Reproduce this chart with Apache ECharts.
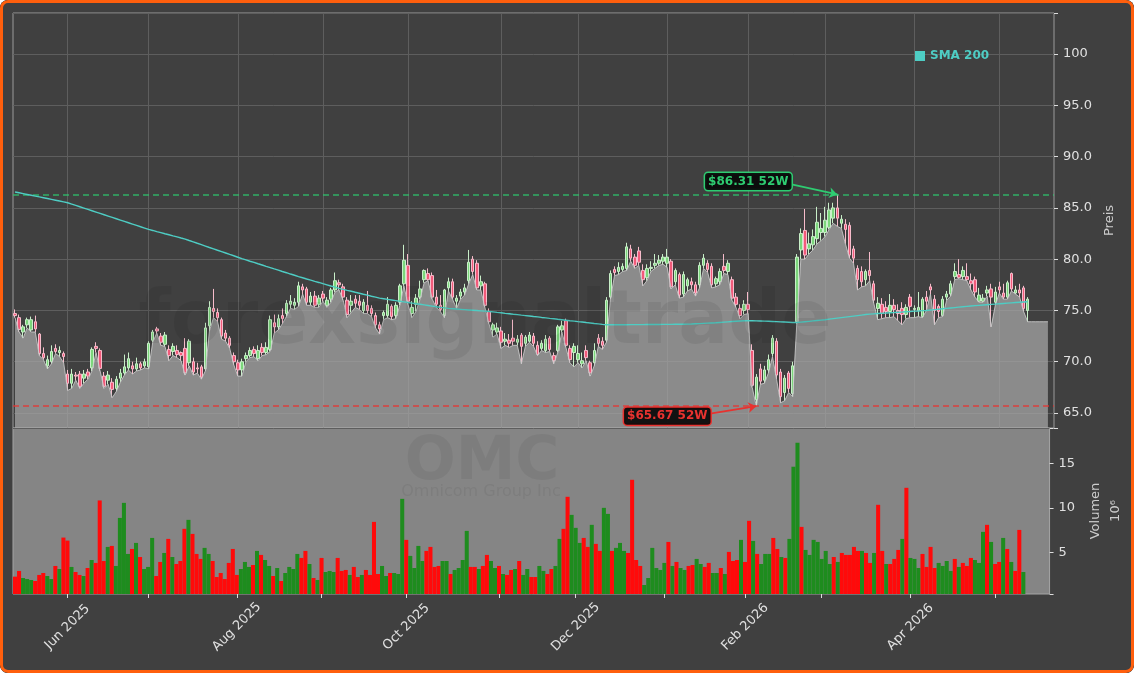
<!DOCTYPE html>
<html>
<head>
<meta charset="utf-8">
<title>OMC</title>
<script src="https://cdn.jsdelivr.net/npm/echarts@6/dist/echarts.min.js"></script>
<style>
  html, body { margin: 0; padding: 0; background: #ffffff; }
  .frame { position: relative; width: 1134px; height: 673px; border-radius: 8px; overflow: hidden; background: #404040; }
  #chart { position: absolute; left: 0; top: 0; width: 1134px; height: 673px; }
  .edge { position: absolute; left: 0; top: 0; width: 1134px; height: 673px; box-sizing: border-box;
          border: 3px solid #ff5f0d; border-radius: 8px; pointer-events: none; }
</style>
</head>
<body>
<div class="frame">
  <div id="chart"></div>
  <div class="edge"></div>
</div>
<script>
// OMC daily candles, one trading day per category
const startDate = '2025-05-13'
const holidays = ['2025-05-26', '2025-06-19', '2025-07-04', '2025-09-01', '2025-11-27',
  '2025-12-25', '2026-01-01', '2026-01-19', '2026-02-16', '2026-04-03']
const tickLabels = ['Jun 2025', 'Aug 2025', 'Oct 2025', 'Dec 2025', 'Feb 2026', 'Apr 2026']
const padDays = 6

const opens = [
  74.7, 74.3, 72.9, 73.6, 73.1, 73.9, 72.7, 70.8, 69.6, 70.0,
  71.3, 70.9, 70.8, 68.8, 67.9, 68.7, 68.8, 68.4, 69.0, 69.4,
  71.5, 71.1, 68.6, 68.2, 68.0, 67.4, 68.4, 68.9, 69.4, 69.6,
  69.3, 69.8, 69.6, 69.5, 72.1, 73.2, 72.5, 71.7, 71.2, 71.0,
  71.1, 70.9, 71.3, 69.9, 70.0, 69.4, 69.5, 69.3, 73.5, 75.2,
  74.8, 74.1, 72.8, 72.3, 70.6, 69.9, 69.2, 70.3, 70.6, 71.2,
  70.3, 71.4, 70.9, 71.2, 73.8, 73.4, 74.5, 74.7, 75.6, 75.5,
  75.8, 77.3, 77.1, 75.8, 76.4, 75.6, 76.6, 75.5, 76.1, 77.0,
  77.7, 77.3, 76.0, 75.5, 76.1, 75.9, 75.0, 75.5, 75.2, 74.5,
  73.6, 74.5, 74.5, 75.4, 74.5, 75.8, 77.6, 79.4, 74.7, 75.6,
  76.3, 78.0, 78.6, 78.4, 76.3, 75.5, 74.5, 77.2, 77.8, 75.9,
  76.4, 76.8, 77.9, 80.0, 79.6, 77.4, 77.6, 74.9, 73.1, 72.9,
  73.0, 72.0, 72.1, 72.3, 71.9, 72.6, 71.8, 72.0, 72.5, 71.6,
  71.3, 71.1, 72.3, 70.6, 71.1, 73.1, 74.0, 71.3, 70.9, 70.2,
  69.8, 71.1, 69.9, 69.9, 72.3, 72.0, 72.1, 76.3, 79.0, 78.8,
  79.0, 79.1, 81.0, 80.2, 80.8, 78.9, 78.2, 79.1, 79.4, 79.6,
  79.8, 79.6, 79.8, 77.8, 78.5, 76.6, 77.4, 77.8, 77.5, 77.5,
  79.4, 79.6, 79.3, 77.6, 77.8, 79.3, 78.8, 78.0, 76.3, 75.2,
  75.0, 75.6, 71.1, 66.3, 69.3, 68.2, 69.2, 70.8, 72.0, 69.0,
  67.0, 68.9, 66.9, 73.9, 80.9, 82.8, 81.0, 81.4, 82.0, 82.6,
  82.6, 83.1, 84.0, 85.0, 83.5, 83.4, 83.3, 81.0, 79.1, 78.8,
  78.0, 78.9, 77.6, 75.2, 75.6, 75.3, 74.9, 75.5, 75.0, 75.2,
  74.6, 76.3, 75.1, 75.0, 74.4, 76.3, 77.3, 76.1, 75.4, 74.5,
  76.3, 76.6, 78.3, 78.5, 78.3, 78.3, 77.9, 78.0, 75.9, 75.9,
  76.7, 77.1, 75.8, 77.3, 76.7, 76.3, 78.6, 76.7, 77.0, 77.2,
  75.0
]
const closes = [
  74.5, 73.15, 73.4, 74.1, 74.1, 73.2, 70.8, 70.4, 70.2, 71.0,
  71.0, 71.1, 70.5, 67.9, 68.8, 68.6, 67.6, 68.8, 68.6, 71.2,
  71.3, 69.35, 67.6, 68.7, 67.3, 68.3, 68.9, 69.5, 70.3, 69.3,
  69.8, 69.4, 70.0, 71.8, 72.9, 73.0, 71.9, 72.6, 70.6, 71.5,
  70.7, 70.6, 68.9, 72.0, 69.0, 69.3, 68.5, 73.3, 75.3, 74.9,
  74.3, 72.5, 72.3, 71.6, 70.0, 69.2, 70.0, 70.6, 71.1, 70.8,
  71.1, 70.9, 71.4, 74.1, 73.4, 74.2, 74.2, 75.7, 75.9, 75.8,
  77.4, 77.0, 75.8, 76.4, 75.5, 76.2, 76.2, 76.0, 77.0, 77.9,
  77.5, 76.3, 74.6, 75.9, 75.7, 75.5, 75.8, 75.0, 74.7, 73.6,
  73.2, 74.8, 75.6, 74.4, 75.5, 77.4, 79.9, 75.9, 75.3, 76.2,
  77.1, 78.9, 78.0, 76.3, 75.6, 75.1, 77.0, 77.8, 76.3, 76.2,
  76.8, 77.2, 79.7, 78.8, 77.2, 77.8, 75.5, 73.9, 73.6, 73.3,
  71.9, 72.2, 71.8, 72.0, 72.2, 71.5, 72.4, 72.6, 71.8, 70.7,
  71.8, 72.2, 71.2, 70.1, 73.4, 73.5, 71.6, 70.2, 71.5, 70.8,
  70.1, 70.4, 68.9, 71.1, 71.8, 71.6, 76.0, 78.6, 78.7, 79.2,
  79.3, 81.2, 80.1, 79.4, 79.7, 78.0, 79.1, 79.2, 79.6, 79.9,
  80.2, 80.2, 77.3, 78.9, 76.5, 78.5, 78.0, 77.5, 76.7, 79.4,
  80.1, 79.0, 77.5, 78.1, 78.8, 78.9, 79.6, 76.2, 75.6, 74.5,
  75.6, 75.1, 67.7, 68.5, 68.1, 69.2, 70.2, 72.3, 68.7, 66.6,
  68.4, 67.4, 69.6, 80.2, 82.5, 80.4, 81.5, 82.2, 83.6, 83.0,
  83.8, 84.8, 85.0, 84.0, 83.9, 82.9, 80.4, 80.1, 78.0, 77.8,
  78.8, 78.4, 76.0, 75.7, 74.7, 74.9, 75.5, 75.1, 74.7, 74.6,
  75.3, 75.4, 75.2, 75.3, 76.1, 75.9, 77.0, 75.0, 74.9, 76.1,
  76.6, 77.6, 78.8, 78.2, 78.9, 78.0, 77.6, 76.8, 76.5, 76.2,
  77.0, 76.3, 76.8, 77.0, 76.3, 77.7, 77.1, 77.0, 76.7, 75.2,
  76.1
]
const lows = [
  74.3, 72.9, 72.3, 73.3, 72.9, 72.9, 70.6, 70.2, 69.3, 69.8,
  70.8, 70.5, 69.9, 67.2, 67.4, 68.2, 67.4, 67.9, 68.3, 69.1,
  70.9, 69.1, 67.4, 67.8, 66.5, 67.1, 68.0, 68.7, 69.2, 68.8,
  69.1, 69.2, 69.4, 69.3, 71.9, 72.8, 71.6, 71.5, 70.1, 70.6,
  70.4, 70.1, 68.7, 69.6, 68.7, 68.9, 68.3, 69.1, 73.0, 74.3,
  73.9, 72.2, 72.0, 71.3, 69.7, 68.6, 68.6, 70.0, 70.4, 70.5,
  70.1, 70.6, 70.7, 71.0, 72.8, 73.1, 73.7, 74.4, 75.2, 75.1,
  75.4, 76.6, 75.5, 75.5, 75.3, 75.3, 75.9, 75.3, 75.8, 76.8,
  77.0, 76.0, 74.3, 74.8, 75.3, 75.1, 74.7, 74.7, 74.4, 73.3,
  72.7, 74.1, 74.3, 74.1, 74.2, 75.5, 77.4, 75.6, 74.3, 74.9,
  76.1, 77.7, 77.9, 76.1, 75.3, 74.9, 74.3, 76.9, 76.1, 75.2,
  76.1, 76.5, 77.6, 78.5, 77.0, 77.0, 75.3, 73.7, 72.4, 72.7,
  71.3, 71.6, 71.4, 71.6, 71.6, 69.8, 71.5, 71.9, 71.5, 70.6,
  71.1, 70.9, 71.0, 69.8, 70.9, 72.9, 71.4, 69.9, 69.5, 69.9,
  69.4, 70.1, 68.6, 69.6, 71.5, 71.2, 71.9, 76.1, 78.4, 78.5,
  78.8, 78.9, 79.8, 79.1, 79.4, 77.4, 77.9, 78.8, 79.1, 79.4,
  79.5, 79.2, 77.1, 77.5, 76.2, 76.3, 76.9, 77.1, 76.4, 77.2,
  79.1, 78.7, 77.2, 77.3, 77.5, 78.6, 78.5, 76.0, 75.3, 74.2,
  74.6, 74.7, 67.5, 65.67, 67.8, 67.9, 68.9, 70.5, 68.3, 66.0,
  66.2, 67.0, 66.6, 73.7, 80.0, 80.0, 80.5, 80.9, 81.5, 81.8,
  82.2, 82.9, 83.5, 83.2, 83.0, 81.5, 80.1, 79.6, 77.0, 77.3,
  77.4, 77.9, 75.7, 74.1, 74.2, 74.3, 74.3, 74.4, 74.0, 73.6,
  74.2, 74.3, 74.3, 74.4, 74.3, 75.0, 76.6, 73.6, 74.3, 74.4,
  76.0, 76.4, 78.0, 78.1, 78.0, 77.9, 77.0, 76.3, 75.8, 75.8,
  76.4, 73.4, 75.5, 76.7, 76.1, 76.1, 76.9, 76.6, 76.3, 74.9,
  73.9
]
const highs = [
  75.1, 74.6, 73.6, 74.3, 74.4, 74.5, 72.8, 71.4, 70.6, 71.6,
  71.7, 71.5, 71.0, 69.2, 69.3, 69.0, 69.1, 69.2, 69.3, 71.4,
  71.9, 71.3, 69.0, 69.1, 68.4, 68.6, 69.3, 70.7, 70.9, 70.0,
  70.4, 70.0, 70.3, 72.0, 73.1, 73.4, 72.8, 72.9, 71.6, 71.8,
  71.6, 71.0, 72.3, 72.2, 70.4, 69.9, 69.7, 73.8, 75.9, 77.1,
  75.2, 74.3, 73.1, 72.5, 70.9, 70.2, 70.3, 70.9, 71.4, 71.5,
  71.6, 71.8, 71.9, 74.5, 74.6, 74.6, 75.2, 76.0, 76.5, 76.2,
  77.8, 77.6, 77.3, 76.8, 76.9, 76.5, 76.9, 76.3, 77.2, 78.7,
  78.0, 77.6, 76.3, 76.5, 76.5, 76.5, 76.1, 76.9, 75.5, 74.8,
  73.9, 75.0, 76.3, 75.6, 75.8, 77.6, 81.4, 80.5, 75.9, 76.6,
  77.9, 79.0, 79.1, 78.7, 77.0, 76.5, 77.1, 78.2, 78.1, 76.5,
  77.1, 77.6, 80.9, 80.3, 79.9, 78.4, 77.8, 75.2, 73.8, 73.8,
  73.4, 72.8, 72.7, 74.1, 72.6, 72.8, 72.6, 72.9, 72.8, 72.0,
  72.1, 72.6, 72.5, 70.9, 73.6, 74.0, 74.2, 71.6, 71.8, 71.6,
  70.9, 71.6, 70.1, 71.8, 72.7, 72.4, 76.3, 78.9, 79.3, 79.7,
  79.6, 81.6, 81.4, 80.5, 81.2, 79.5, 79.5, 79.8, 80.5, 80.4,
  80.5, 81.0, 80.0, 79.1, 78.7, 78.8, 78.2, 78.2, 77.8, 79.7,
  80.5, 79.9, 79.6, 78.3, 79.1, 80.5, 79.9, 78.3, 76.7, 75.6,
  76.0, 76.8, 71.7, 68.8, 69.8, 69.6, 70.7, 72.6, 72.3, 69.3,
  68.7, 69.1, 70.0, 80.5, 83.0, 84.9, 82.6, 82.9, 85.1, 84.5,
  85.1, 85.5, 85.5, 86.31, 84.3, 83.9, 83.6, 81.3, 79.4, 79.3,
  79.0, 80.7, 77.9, 76.3, 76.2, 75.9, 76.6, 76.1, 75.6, 75.8,
  75.6, 76.6, 75.5, 76.8, 76.3, 76.9, 77.6, 76.5, 75.6, 76.4,
  76.9, 77.9, 79.6, 80.0, 79.3, 79.6, 78.6, 78.3, 77.2, 76.6,
  77.4, 77.6, 77.3, 77.8, 77.6, 77.9, 78.7, 77.4, 77.6, 77.4,
  76.3
]
// volume in millions
const volumes = [
  2.30, 2.94, 2.15, 2.03, 1.92, 1.81, 2.49, 2.71, 2.37, 2.03,
  3.50, 3.16, 6.69, 6.35, 3.39, 2.82, 2.49, 2.37, 3.27, 4.17,
  3.84, 10.86, 4.06, 5.64, 5.75, 3.50, 8.90, 10.59, 4.85, 5.41,
  6.09, 4.51, 3.16, 3.39, 6.65, 2.37, 3.95, 4.96, 6.54, 4.51,
  3.72, 4.06, 7.67, 8.68, 7.10, 4.85, 4.29, 5.53, 4.85, 4.06,
  2.26, 2.71, 2.03, 3.84, 5.41, 2.49, 3.16, 3.95, 3.39, 3.61,
  5.19, 4.74, 4.17, 3.50, 2.37, 3.27, 1.81, 2.71, 3.39, 3.16,
  4.85, 4.40, 5.19, 3.72, 2.15, 1.92, 4.40, 2.82, 2.94, 2.82,
  4.40, 2.94, 3.05, 2.49, 3.39, 2.26, 2.49, 3.05, 2.49, 8.45,
  2.60, 3.50, 2.37, 2.71, 2.71, 2.60, 11.04, 6.43, 4.63, 3.27,
  5.75, 4.06, 5.19, 5.64, 3.39, 3.50, 4.06, 4.06, 2.60, 3.05,
  3.27, 4.17, 7.44, 3.39, 3.39, 3.16, 3.50, 4.74, 4.06, 3.27,
  3.50, 2.60, 2.49, 3.05, 3.16, 4.06, 2.49, 3.16, 2.26, 2.26,
  3.50, 2.94, 2.60, 3.16, 3.50, 6.54, 7.67, 11.27, 9.24, 7.78,
  6.09, 6.65, 5.64, 8.12, 5.98, 5.19, 10.03, 9.35, 5.19, 5.53,
  6.09, 5.19, 4.96, 13.18, 4.17, 3.50, 1.36, 2.15, 5.53, 3.27,
  3.05, 3.84, 6.20, 3.50, 3.95, 3.27, 3.05, 3.50, 3.61, 4.29,
  3.72, 3.39, 3.84, 2.71, 2.71, 3.27, 2.60, 5.08, 4.06, 4.17,
  6.43, 3.95, 8.57, 6.31, 4.85, 3.72, 4.85, 4.85, 6.65, 5.41,
  4.51, 4.40, 6.54, 14.65, 17.35, 7.89, 5.30, 4.74, 6.43, 6.20,
  4.29, 5.19, 3.72, 4.51, 3.95, 4.96, 4.74, 4.74, 5.64, 5.19,
  5.19, 4.96, 3.84, 4.96, 10.37, 5.19, 3.72, 3.72, 4.29, 5.30,
  6.54, 12.28, 4.40, 4.29, 3.27, 4.85, 3.39, 5.64, 3.27, 3.84,
  3.50, 4.06, 2.94, 4.29, 3.39, 3.84, 3.50, 4.40, 4.17, 3.84,
  7.33, 8.12, 6.20, 3.72, 3.95, 6.65, 5.41, 3.95, 2.94, 7.55,
  2.82
]
const sma200 = [
  86.55, 86.47, 86.39, 86.31, 86.23, 86.15, 86.07, 85.99, 85.91, 85.83,
  85.75, 85.67, 85.59, 85.50, 85.37, 85.24, 85.11, 84.98, 84.85, 84.72,
  84.59, 84.46, 84.33, 84.20, 84.07, 83.94, 83.81, 83.68, 83.55, 83.42,
  83.29, 83.16, 83.03, 82.90, 82.80, 82.69, 82.59, 82.48, 82.38, 82.27,
  82.17, 82.06, 81.96, 81.82, 81.69, 81.55, 81.42, 81.28, 81.14, 81.01,
  80.87, 80.74, 80.60, 80.46, 80.33, 80.19, 80.05, 79.93, 79.80, 79.68,
  79.55, 79.43, 79.30, 79.18, 79.05, 78.93, 78.80, 78.68, 78.55, 78.43,
  78.30, 78.19, 78.07, 77.96, 77.84, 77.73, 77.61, 77.50, 77.38, 77.27,
  77.15, 77.06, 76.96, 76.87, 76.77, 76.68, 76.58, 76.49, 76.39, 76.30,
  76.20, 76.14, 76.08, 76.02, 75.96, 75.90, 75.84, 75.78, 75.72, 75.66,
  75.60, 75.54, 75.48, 75.42, 75.36, 75.30, 75.25, 75.20, 75.17, 75.14,
  75.11, 75.08, 75.05, 75.02, 74.99, 74.96, 74.93, 74.90, 74.86, 74.81,
  74.77, 74.72, 74.68, 74.63, 74.59, 74.54, 74.50, 74.46, 74.41, 74.37,
  74.32, 74.28, 74.23, 74.19, 74.14, 74.10, 74.05, 74.00, 73.96, 73.91,
  73.87, 73.82, 73.78, 73.73, 73.69, 73.64, 73.60, 73.60, 73.60, 73.61,
  73.61, 73.61, 73.62, 73.62, 73.62, 73.62, 73.63, 73.63, 73.63, 73.63,
  73.64, 73.64, 73.64, 73.65, 73.65, 73.66, 73.67, 73.68, 73.70, 73.72,
  73.74, 73.76, 73.78, 73.80, 73.83, 73.86, 73.89, 73.92, 73.95, 73.97,
  73.99, 74.00, 73.99, 73.98, 73.97, 73.96, 73.95, 73.93, 73.91, 73.89,
  73.87, 73.85, 73.83, 73.82, 73.86, 73.90, 73.94, 73.98, 74.02, 74.06,
  74.10, 74.15, 74.20, 74.25, 74.30, 74.35, 74.40, 74.45, 74.50, 74.55,
  74.60, 74.64, 74.67, 74.70, 74.73, 74.75, 74.78, 74.80, 74.83, 74.85,
  74.88, 74.90, 74.93, 74.95, 74.98, 75.00, 75.04, 75.08, 75.12, 75.16,
  75.20, 75.24, 75.28, 75.32, 75.36, 75.40, 75.44, 75.47, 75.50, 75.53,
  75.56, 75.59, 75.62, 75.65, 75.68, 75.71, 75.74, 75.77, 75.80, 75.83,
  75.85
]
// the grey fill keeps running a few sessions past the last candle
const areaTail = [73.9, 73.9, 73.9, 73.9, 73.9]

const monthNames = ['Jan', 'Feb', 'Mar', 'Apr', 'May', 'Jun', 'Jul', 'Aug', 'Sep', 'Oct', 'Nov', 'Dec']

const tradingDays = (start, count) => {
  const out = []
  const d = new Date(start + 'T00:00:00Z')
  while (out.length < count) {
    const s = d.toISOString().slice(0, 10)
    const wd = d.getUTCDay()
    if (wd !== 0 && wd !== 6 && !holidays.includes(s)) out.push(s)
    d.setUTCDate(d.getUTCDate() + 1)
  }
  return out
}

const dates = tradingDays(startDate, closes.length + padDays)
const monthLabel = (s) => monthNames[+s.slice(5, 7) - 1] + ' ' + s.slice(0, 4)

// first session of every month gets a tick / grid line
const monthStarts = new Set()
dates.forEach((d, i) => {
  if (i > 0 && d.slice(0, 7) !== dates[i - 1].slice(0, 7)) monthStarts.add(i)
})
const labelIdx = new Set([...monthStarts].filter(i => tickLabels.includes(monthLabel(dates[i]))))

const high52 = Math.max(...highs)
const hiIdx = highs.indexOf(high52)
const low52 = Math.min(...lows)
const loIdx = lows.indexOf(low52)

const upColor = '#7bd67b'
const downColor = '#f25a7a'
const volUp = '#1e8c1e'
const volDown = '#ff0a0a'
const hiColor = '#2ecc71'
const loColor = '#e8322f'
const smaColor = '#4ecdc4'
const labelColor = '#e0e0e0'

const candleData = opens.map((o, i) => [o, closes[i], lows[i], highs[i]])
const areaData = lows.concat(areaTail)
const volData = volumes.map((v, i) => ({
  value: v,
  itemStyle: { color: closes[i] >= opens[i] ? volUp : volDown }
}))

const priceTick = (v) => {
  if (Math.abs(v - Math.round(v / 5) * 5) > 1e-6) return ''
  return v >= 100 ? String(Math.round(v)) : v.toFixed(1)
}
const volTick = (v) => (Math.abs(v - Math.round(v / 5) * 5) > 1e-6 ? '' : String(Math.round(v)))

const boxLabel = (color, text, offset) => ({
  show: true,
  position: 'inside',
  offset: offset,
  formatter: text,
  color: color,
  fontFamily: 'DejaVu Sans',
  fontWeight: 'bold',
  fontSize: 12,
  backgroundColor: 'rgba(8,8,8,0.92)',
  borderColor: color,
  borderWidth: 1.5,
  borderRadius: 3,
  padding: [3, 3, 2, 3]
})

const chart = echarts.init(document.getElementById('chart'))

const option = {
  backgroundColor: '#404040',
  animation: false,
  textStyle: { fontFamily: 'DejaVu Sans' },
  legend: {
    data: ['SMA 200'],
    left: 910,
    top: 45,
    icon: 'rect',
    itemWidth: 10,
    itemHeight: 10,
    textStyle: { color: smaColor, fontWeight: 'bold', fontSize: 12 }
  },
  grid: [
    { left: 13, right: 80, top: 13, height: 415, show: true, backgroundColor: '#404040',
      borderColor: '#9a9a9a', borderWidth: 1 },
    { left: 13, right: 80, top: 428, height: 166, show: true, backgroundColor: '#858585',
      borderColor: '#a4a4a4', borderWidth: 1 }
  ],
  xAxis: [
    {
      type: 'category', gridIndex: 0, data: dates, boundaryGap: true,
      axisLine: { show: false }, axisTick: { show: false }, axisLabel: { show: false },
      splitLine: {
        show: true, alignWithLabel: true,
        interval: (i) => monthStarts.has(i),
        lineStyle: { color: '#5e5e5e', width: 1 }
      }
    },
    {
      type: 'category', gridIndex: 1, data: dates, boundaryGap: true,
      axisLine: { show: false },
      axisTick: {
        show: true, alignWithLabel: true, length: 4,
        interval: (i) => monthStarts.has(i),
        lineStyle: { color: '#dddddd' }
      },
      axisLabel: {
        interval: (i) => labelIdx.has(i),
        formatter: (v) => monthLabel(v),
        rotate: 45, align: 'center', verticalAlign: 'middle', margin: 33,
        color: labelColor, fontSize: 13
      },
      splitLine: { show: false }
    }
  ],
  yAxis: [
    {
      type: 'value', gridIndex: 0, position: 'right', min: 63.54, max: 104, splitNumber: 8,
      name: 'Preis', nameLocation: 'middle', nameRotate: 90, nameGap: 46,
      nameTextStyle: { color: '#cccccc', fontSize: 13 },
      axisLine: { show: false },
      axisTick: { show: true, length: 4, lineStyle: { color: '#dddddd' } },
      axisLabel: { color: labelColor, fontSize: 13, margin: 9, formatter: priceTick },
      splitLine: { show: true, lineStyle: { color: '#5e5e5e', width: 1 } }
    },
    {
      type: 'value', gridIndex: 1, position: 'right', min: 0.35, max: 19, splitNumber: 4,
      name: 'Volumen\n10⁶', nameLocation: 'middle', nameRotate: 90, nameGap: 32,
      nameTextStyle: { color: '#cccccc', fontSize: 13, lineHeight: 20, align: 'center' },
      axisLine: { show: false },
      axisTick: { show: true, length: 4, lineStyle: { color: '#dddddd' } },
      axisLabel: { color: labelColor, fontSize: 13, margin: 9, formatter: volTick },
      splitLine: { show: false }
    }
  ],
  graphic: [
    { type: 'text', x: 485, y: 324, z: 100, silent: true,
      style: { text: 'forexsignaltrade', fontSize: 74, fontWeight: 'bold', fontFamily: 'DejaVu Sans',
               fill: 'rgba(0,0,0,0.07)', align: 'center', verticalAlign: 'middle' } },
    { type: 'text', x: 482, y: 463, z: 100, silent: true,
      style: { text: 'OMC', fontSize: 60, fontWeight: 'bold', fontFamily: 'DejaVu Sans',
               fill: 'rgba(0,0,0,0.06)', align: 'center', verticalAlign: 'middle' } },
    { type: 'text', x: 481, y: 492, z: 100, silent: true,
      style: { text: 'Omnicom Group Inc', fontSize: 16, fontFamily: 'DejaVu Sans',
               fill: 'rgba(0,0,0,0.06)', align: 'center', verticalAlign: 'middle' } }
  ],
  series: [
    {
      name: 'OMC',
      type: 'candlestick',
      xAxisIndex: 0, yAxisIndex: 0,
      data: candleData,
      barWidth: 3,
      z: 2,
      itemStyle: {
        color: upColor, color0: downColor,
        borderColor: '#c9efc9', borderColor0: '#f7bccb', borderWidth: 1
      }
    },
    {
      name: 'Fill',
      type: 'line',
      xAxisIndex: 0, yAxisIndex: 0,
      data: areaData,
      symbol: 'none',
      silent: true,
      z: 3,
      lineStyle: { color: '#cdcdcd', width: 1, opacity: 0.85 },
      areaStyle: { color: '#a8a8a8', opacity: 0.72, origin: 'start' }
    },
    {
      name: 'SMA 200',
      type: 'line',
      xAxisIndex: 0, yAxisIndex: 0,
      data: sma200,
      symbol: 'none',
      z: 5,
      lineStyle: { color: smaColor, width: 1.4 },
      itemStyle: { color: smaColor },
      markLine: {
        silent: true,
        animation: false,
        symbol: ['none', 'none'],
        label: { show: false },
        data: [
          { yAxis: high52, lineStyle: { color: hiColor, type: [6, 4], width: 1.5, opacity: 0.8 } },
          { yAxis: low52, lineStyle: { color: loColor, type: [6, 4], width: 1.5, opacity: 0.85 } },
          [
            { coord: [hiIdx - 11, high52 + 0.95], symbol: 'none', lineStyle: { color: hiColor, width: 1.8, type: 'solid' } },
            { coord: [hiIdx, high52], symbol: 'arrow', symbolSize: 8 }
          ],
          [
            { coord: [loIdx - 11, low52 - 0.7], symbol: 'none', lineStyle: { color: loColor, width: 1.8, type: 'solid' } },
            { coord: [loIdx, low52], symbol: 'arrow', symbolSize: 8 }
          ]
        ]
      },
      markPoint: {
        silent: true,
        animation: false,
        symbol: 'circle',
        symbolSize: 1,
        itemStyle: { color: 'rgba(0,0,0,0)' },
        data: [
          { coord: [hiIdx, high52], label: boxLabel(hiColor, '$' + high52.toFixed(2) + ' 52W', [-89, -13]) },
          { coord: [loIdx, low52], label: boxLabel(loColor, '$' + low52.toFixed(2) + ' 52W', [-89, 10]) }
        ]
      }
    },
    {
      name: 'Volumen',
      type: 'bar',
      xAxisIndex: 1, yAxisIndex: 1,
      data: volData,
      barCategoryGap: '0%',
      z: 2
    }
  ]
}

chart.setOption(option)
</script>
</body>
</html>
